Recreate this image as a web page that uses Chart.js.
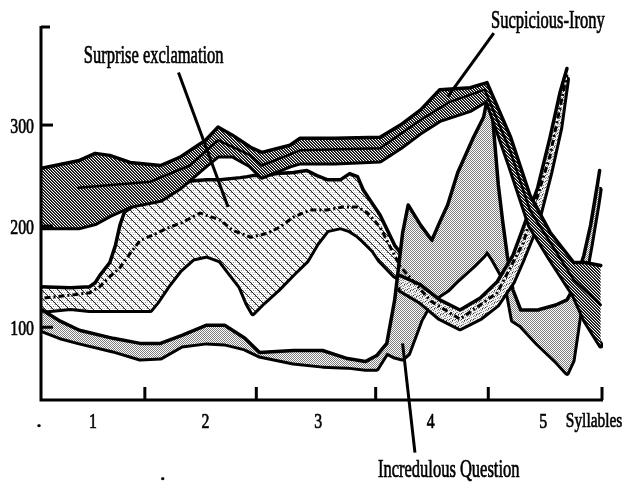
<!DOCTYPE html>
<html><head><meta charset="utf-8">
<script src="https://cdn.jsdelivr.net/npm/chart.js@4.4.1/dist/chart.umd.min.js"></script>
<style>html,body{margin:0;padding:0;background:#fff;}canvas{display:block;}</style>
</head><body>
<canvas id="c" width="623" height="484"></canvas>
<script>
// ---- data (x in syllables, y in Hz) ----
const xTicks = [1, 2, 3, 4, 5];
const xTickMarks = [1.47, 2.46, 3.52, 4.52, 5.53];
const yTicks = [100, 200, 300];

const suspX    = [0.53,0.88,1.02,1.15,1.33,1.60,1.77,2.00,2.11,2.24,2.40,2.50,2.75,2.84,3.15,3.55,3.73,3.91,4.08,4.35,4.50,4.71,4.88,5.06,5.27,5.37,5.51];
const suspHigh = [257,265,272,270,263,260,268,285,298,290,278,273,280,287,287,288,300,315,335,337,342,288,231,194,164,164,161];
const suspLow  = [199,199,203,211,220,226,238,260,270,270,260,249,260,263,263,265,278,293,305,315,325,258,201,168,132,107,82];
const suspMeanX = [0.87,1.51,1.86,2.11,2.40,2.50,2.84,3.55,3.91,4.17,4.48,4.71,4.88,5.27,5.51];
const suspMean  = [238,244,260,285,270,260,275,277,305,323,335,273,216,147,122];

const surpX    = [0.53,0.80,0.97,1.02,1.06,1.15,1.20,1.24,1.28,1.36,1.51,1.57,1.66,1.77,1.89,2.01,2.13,2.22,2.31,2.37,2.42,2.51,2.64,2.78,2.90,2.99,3.08,3.20,3.28,3.35,3.40,3.49,3.55,3.68,3.82];
const surpHigh = [140,139,140,144,151,164,181,201,214,220,225,228,233,241,245,246,246,247,248,249,250,250,252,253,255,250,246,246,252,249,236,221,211,181,161];
const surpLow  = [116,119,117,117,117,117,117,117,117,117,117,125,140,156,168,171,166,153,140,124,114,124,137,153,166,183,196,199,196,191,186,176,166,151,142];
const tailX    = [3.73,3.91,4.08,4.26,4.44,4.59,4.73,4.82,4.95,5.06,5.15,5.21];
const tailHigh = [151,142,127,117,129,145,171,198,238,288,333,356];
const tailLow  = [137,125,109,99,109,122,145,168,204,252,297,345];
const surpMeanX = [0.57,0.82,0.97,1.06,1.15,1.24,1.33,1.42,1.53,1.66,1.80,1.95,2.13,2.24,2.40,2.55,2.66,2.78,2.93,3.08,3.22,3.35,3.44,3.55,3.73,4.00,4.26,4.59,4.82,5.06,5.21];
const surpMean  = [129,132,134,140,150,159,173,186,191,198,204,213,206,196,189,193,199,209,216,216,219,219,213,199,160,126,108,134,183,270,350];

const incrX    = [0.55,0.71,0.88,1.18,1.42,1.60,1.79,2.01,2.17,2.35,2.48,2.78,3.04,3.26,3.42,3.52,3.61,3.68,3.75,3.80,3.91,4.01,4.08,4.15,4.24,4.38,4.47,4.50,4.55,4.60,4.64,4.68,4.73,4.80,4.95,5.11,5.21,5.26,5.30,5.36,5.42,5.48,5.50];
const incrHigh = [117,106,97,89,84,84,92,102,102,89,75,77,77,69,66,72,84,127,193,221,201,186,204,221,253,288,308,325,307,241,204,171,137,117,117,122,127,137,151,171,201,241,255];
const incrLow  = [97,90,85,77,69,70,82,85,84,79,72,65,62,61,59,59,75,71,69,74,107,127,132,137,147,161,171,176,168,158,150,137,107,102,84,67,55,67,97,144,181,221,236];

const labelText = ['Surprise exclamation', 'Sucpicious-Irony', 'Incredulous Question'];
const labelX    = [1.54, 5.04, 4.16];
const labelY    = [361, 396, -48];
const leaderFromX = [1.76, 4.56, 3.75];
const leaderFromY = [352, 391, 84];
const leaderToX   = [2.20, 4.15, 3.86];
const leaderToY   = [219, 328, -24];

// ---- helpers ----
const pts = (xs, ys) => xs.map((x, i) => ({x: x, y: ys[i]}));
function tile(w, h, draw) { const c = document.createElement('canvas'); c.width = w; c.height = h; const g = c.getContext('2d'); draw(g); return c; }
const cv = document.getElementById('c');
const c2 = cv.getContext('2d');

const darkHatch = c2.createPattern(tile(3, 3, g => {
  g.fillStyle = '#fff'; g.fillRect(0, 0, 3, 3);
  for (let i = 0; i < 3; i++) {
    g.fillStyle = '#000'; g.fillRect(i, i, 1, 1);
    g.fillStyle = '#4a4a4a'; g.fillRect((i + 1) % 3, i, 1, 1);
  }
}), 'repeat');
const crossHatch = c2.createPattern(tile(8, 8, g => {
  g.fillStyle = '#fff'; g.fillRect(0, 0, 8, 8);
  g.fillStyle = '#bdbdbd';
  for (let yy = 0; yy < 8; yy += 2) for (let xx = (yy % 4 ? 1 : 0); xx < 8; xx += 2) g.fillRect(xx, yy, 1, 1);
  g.fillStyle = '#222';
  for (let i = 0; i < 8; i++) g.fillRect(i, i, 1, 1);
  g.fillStyle = '#888';
  for (let i = 0; i < 8; i += 2) g.fillRect(7 - i, i, 1, 1);
}), 'repeat');
const stipple = c2.createPattern(tile(2, 2, g => {
  g.fillStyle = '#fff'; g.fillRect(0, 0, 2, 2);
  g.fillStyle = '#7c7c7c'; g.fillRect(0, 0, 1, 1); g.fillRect(1, 1, 1, 1);
}), 'repeat');
const speckle = c2.createPattern(tile(6, 6, g => {
  g.fillStyle = '#f2f2f2'; g.fillRect(0, 0, 6, 6);
  g.fillStyle = '#8a8a8a';
  [[0,0],[1,0],[3,1],[4,2],[0,3],[2,3],[1,4],[5,4],[3,5]].forEach(p => g.fillRect(p[0], p[1], 1, 1));
  g.fillStyle = '#333'; g.fillRect(2, 2, 1, 1); g.fillRect(5, 1, 1, 1);
}), 'repeat');

function txt(ctx, s, x, y, size, sx, align) {
  ctx.save(); ctx.font = size + 'px "Liberation Serif", serif'; ctx.translate(x, y); ctx.scale(sx, 1);
  ctx.textAlign = align; ctx.textBaseline = 'alphabetic'; ctx.fillStyle = '#000'; ctx.fillText(s, 0, 0);
  ctx.lineWidth = 0.7; ctx.strokeStyle = '#000'; ctx.strokeText(s, 0, 0); ctx.restore();
}

const deco = {
  id: 'deco',
  afterDraw(chart) {
    const ctx = chart.ctx, xs = chart.scales.x, ys = chart.scales.y;
    const X = v => xs.getPixelForValue(v), Y = v => ys.getPixelForValue(v);
    const x0 = X(xs.min) + 1, x1 = X(xs.max), yb = Y(ys.min), yt = Y(ys.max);
    ctx.save();
    ctx.strokeStyle = '#000'; ctx.lineWidth = 3; ctx.lineCap = 'butt';
    ctx.beginPath(); ctx.moveTo(x0, yt); ctx.lineTo(x0, yb); ctx.lineTo(x1, yb); ctx.stroke();
    ctx.beginPath(); ctx.moveTo(x0, yt + 1); ctx.lineTo(x0 + 9, yt + 1); ctx.stroke();
    yTicks.forEach(v => {
      ctx.beginPath(); ctx.moveTo(x0, Y(v)); ctx.lineTo(x0 + 12, Y(v)); ctx.stroke();
      txt(ctx, String(v), x0 - 7, Y(v) + 8, 22, 0.72, 'right');
    });
    xTickMarks.forEach(v => { ctx.beginPath(); ctx.moveTo(X(v) - 1, yb); ctx.lineTo(X(v) - 1, yb - 13); ctx.stroke(); });
    xTicks.forEach(v => txt(ctx, String(v), X(v), yb + 28, 22, 0.72, 'center'));
    txt(ctx, 'Syllables', X(5.2), yb + 27, 22, 0.7, 'left');
    txt(ctx, '.', x0 - 2, yb + 27, 22, 1, 'center');
    txt(ctx, '.', X(1.62), Y(-51), 22, 1, 'center');
    for (let i = 0; i < labelText.length; i++) {
      ctx.beginPath(); ctx.moveTo(X(leaderFromX[i]), Y(leaderFromY[i])); ctx.lineTo(X(leaderToX[i]), Y(leaderToY[i])); ctx.stroke();
      txt(ctx, labelText[i], X(labelX[i]), Y(labelY[i]), 25, 0.66, 'center');
    }
    ctx.restore();
  }
};

const base = {pointRadius: 0, borderColor: '#000', tension: 0, borderJoinStyle: 'round', borderCapStyle: 'round'};
new Chart(cv, {
  type: 'line',
  data: {
    datasets: [
      Object.assign({}, base, {label: 'Sucpicious-Irony mean', data: pts(suspMeanX, suspMean), borderWidth: 2.5, fill: false}),
      Object.assign({}, base, {label: 'Sucpicious-Irony high', data: pts(suspX, suspHigh), borderWidth: 3.5, fill: '+1', backgroundColor: darkHatch}),
      Object.assign({}, base, {label: 'Sucpicious-Irony low', data: pts(suspX, suspLow), borderWidth: 6, fill: false}),
      Object.assign({}, base, {label: 'Surprise exclamation mean', data: pts(surpMeanX, surpMean), borderWidth: 3, borderDash: [6, 3, 2, 3], borderCapStyle: 'butt', fill: false}),
      Object.assign({}, base, {label: 'Surprise exclamation tail high', data: pts(tailX, tailHigh), borderWidth: 3.5, fill: '+1', backgroundColor: speckle}),
      Object.assign({}, base, {label: 'Surprise exclamation tail low', data: pts(tailX, tailLow), borderWidth: 6, fill: false}),
      Object.assign({}, base, {label: 'Incredulous Question high', data: pts(incrX, incrHigh), borderWidth: 3.5, fill: '+1', backgroundColor: stipple}),
      Object.assign({}, base, {label: 'Incredulous Question low', data: pts(incrX, incrLow), borderWidth: 6, fill: false}),
      Object.assign({}, base, {label: 'Surprise exclamation high', data: pts(surpX, surpHigh), borderWidth: 3.5, fill: '+1', backgroundColor: crossHatch}),
      Object.assign({}, base, {label: 'Surprise exclamation low', data: pts(surpX, surpLow), borderWidth: 6, fill: false})
    ]
  },
  options: {
    responsive: false, animation: false, devicePixelRatio: 1,
    layout: {padding: {left: 40, right: 20, top: 26, bottom: 84}},
    plugins: {legend: {display: false}, tooltip: {enabled: false}},
    scales: {
      x: {type: 'linear', min: 0.53, max: 5.53, display: false},
      y: {type: 'linear', min: 28, max: 398, display: false}
    }
  },
  plugins: [deco]
});
</script>
</body></html>
